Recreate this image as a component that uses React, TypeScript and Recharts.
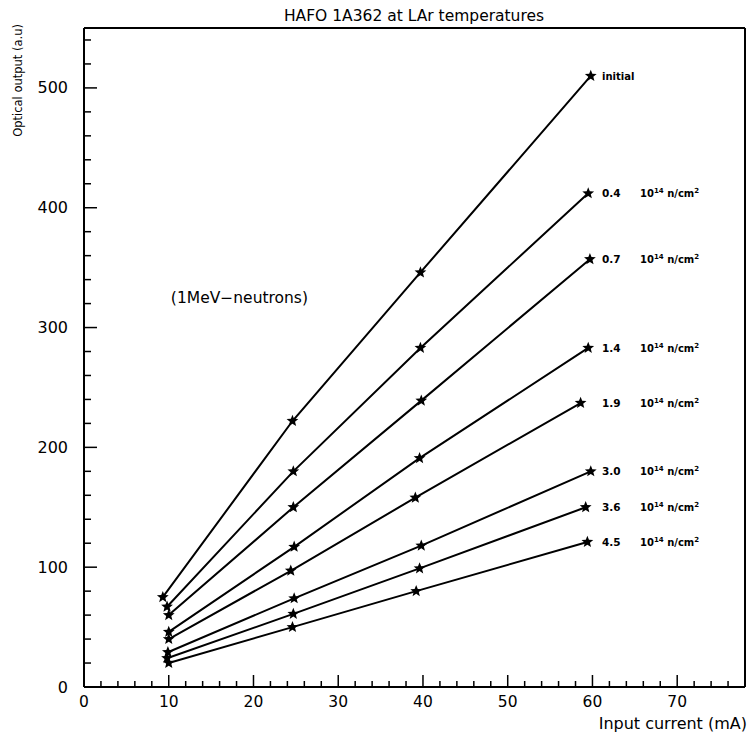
import { Label, Line, LineChart, XAxis, YAxis } from "recharts";

const FONT = "'DejaVu Sans', sans-serif";

// fluence labels, top curve first (units of 10^14 n/cm^2)
const fluenceLabels = ["initial", "0.4", "0.7", "1.4", "1.9", "3.0", "3.6", "4.5"];

// input current (mA) of each measured point, per curve
const currentInitial = [9.3, 24.6, 39.7, 59.8];
const current04 = [9.8, 24.7, 39.7, 59.5];
const current07 = [10, 24.7, 39.8, 59.7];
const current14 = [10, 24.8, 39.6, 59.5];
const current19 = [10, 24.4, 39.1, 58.6];
const current30 = [9.9, 24.8, 39.8, 59.8];
const current36 = [9.8, 24.7, 39.6, 59.2];
const current45 = [10, 24.6, 39.2, 59.4];

// optical output (a.u), per curve
const outputInitial = [75, 222, 346, 510];
const output04 = [67, 180, 283, 412];
const output07 = [60, 150, 239, 357];
const output14 = [46, 117, 191, 283];
const output19 = [40, 97, 158, 237];
const output30 = [29, 74, 118, 180];
const output36 = [24, 61, 99, 150];
const output45 = [20, 50, 80, 121];

const xTicks = [
  0, 2, 4, 6, 8, 10, 12, 14, 16, 18, 20, 22, 24, 26, 28, 30, 32, 34, 36, 38,
  40, 42, 44, 46, 48, 50, 52, 54, 56, 58, 60, 62, 64, 66, 68, 70, 72, 74, 76,
];
const xLabelled = [0, 10, 20, 30, 40, 50, 60, 70];
const yTicks = [
  0, 20, 40, 60, 80, 100, 120, 140, 160, 180, 200, 220, 240, 260, 280, 300,
  320, 340, 360, 380, 400, 420, 440, 460, 480, 500, 520, 540,
];
const yLabelled = [0, 100, 200, 300, 400, 500];

const currents = [
  currentInitial, current04, current07, current14,
  current19, current30, current36, current45,
];
const outputs = [
  outputInitial, output04, output07, output14,
  output19, output30, output36, output45,
];

const series = fluenceLabels.map((name, s) => ({
  name,
  data: currents[s].map((x, i) => ({ x, y: outputs[s][i] })),
}));

const TAG_X = 602;
const UNIT_X = 640;

function renderStar(props: any, s: number) {
  const { cx, cy, index } = props;
  const key = `star-${s}-${index}`;
  if (cx == null || cy == null) return <g key={key} />;
  const pts: string[] = [];
  for (let i = 0; i < 10; i++) {
    const r = i % 2 === 0 ? 6.2 : 2.7;
    const a = -Math.PI / 2 + (i * Math.PI) / 5;
    pts.push(`${cx + r * Math.cos(a)},${cy + r * Math.sin(a)}`);
  }
  return <polygon key={key} points={pts.join(" ")} fill="#000" />;
}

function renderTag(p: any, s: number) {
  const key = `tag-${s}-${p.index}`;
  if (p.index !== currents[s].length - 1) return <g key={key} />;
  const y = Number(p.y) + 4;
  if (s === 0) {
    return (
      <text key={key} x={TAG_X} y={y} fontSize={10} fontWeight="bold" fontFamily={FONT} fill="#000">
        {fluenceLabels[s]}
      </text>
    );
  }
  return (
    <g key={key} fontFamily={FONT} fontWeight="bold" fill="#000">
      <text x={TAG_X} y={y} fontSize={10.5}>
        {fluenceLabels[s]}
      </text>
      <text x={UNIT_X} y={y} fontSize={10}>
        10
        <tspan dy={-4} fontSize={7}>14</tspan>
        <tspan dy={4}> n/cm</tspan>
        <tspan dy={-4} fontSize={7}>2</tspan>
      </text>
    </g>
  );
}

const BottomTick = (props: any) => {
  const { x, y, payload } = props;
  const major = xLabelled.includes(payload.value);
  return (
    <g>
      <line x1={x} x2={x} y1={y} y2={y - (major ? 12 : 6)} stroke="#000" strokeWidth={1.5} />
      {major && (
        <text x={x} y={y + 20} textAnchor="middle" fontSize={15.5} fontFamily={FONT} fill="#000">
          {payload.value}
        </text>
      )}
    </g>
  );
};

const TopTick = (props: any) => {
  const { x, y, payload } = props;
  const major = xLabelled.includes(payload.value);
  return <line x1={x} x2={x} y1={y} y2={y + (major ? 5 : 3)} stroke="#000" strokeWidth={1} />;
};

const LeftTick = (props: any) => {
  const { x, y, payload } = props;
  const major = yLabelled.includes(payload.value);
  return (
    <g>
      <line x1={x} x2={x + (major ? 13 : 7)} y1={y} y2={y} stroke="#000" strokeWidth={1.5} />
      {major && (
        <text x={x - 16} y={y + 5.5} textAnchor="end" fontSize={16} fontFamily={FONT} fill="#000">
          {payload.value}
        </text>
      )}
    </g>
  );
};

const RightTick = (props: any) => {
  const { x, y, payload } = props;
  const major = yLabelled.includes(payload.value);
  return <line x1={x} x2={x - (major ? 5 : 3)} y1={y} y2={y} stroke="#000" strokeWidth={1} />;
};

const frame = { stroke: "#000", strokeWidth: 2 };

export default function App() {
  return (
    <div style={{ position: "absolute", left: 0, top: 0, background: "#fff" }}>
      <LineChart width={750} height={738} margin={{ top: 27, right: 4, bottom: 0, left: 0 }}>
        <XAxis
          dataKey="x"
          type="number"
          domain={[0, 78]}
          ticks={xTicks}
          interval={0}
          height={51}
          tickSize={0}
          tickMargin={0}
          tickLine={false}
          axisLine={frame}
          tick={BottomTick}
        >
          <Label
            content={() => (
              <text x={747} y={729} textAnchor="end" fontSize={16} fontFamily={FONT} fill="#000">
                Input current (mA)
              </text>
            )}
          />
        </XAxis>
        <XAxis
          xAxisId="top"
          orientation="top"
          dataKey="x"
          type="number"
          domain={[0, 78]}
          ticks={xTicks}
          interval={0}
          height={1}
          tickSize={0}
          tickMargin={0}
          tickLine={false}
          axisLine={frame}
          tick={TopTick}
        >
          <Label
            content={() => (
              <text x={414} y={21} textAnchor="middle" fontSize={15.5} fontFamily={FONT} fill="#000">
                HAFO 1A362 at LAr temperatures
              </text>
            )}
          />
        </XAxis>
        <YAxis
          type="number"
          domain={[0, 550]}
          ticks={yTicks}
          interval={0}
          width={84}
          tickSize={0}
          tickMargin={0}
          tickLine={false}
          axisLine={frame}
          tick={LeftTick}
        >
          <Label
            content={() => (
              <g fontFamily={FONT} fill="#000">
                <text x={22} y={24} transform="rotate(-90 22 24)" textAnchor="end" fontSize={11.5}>
                  Optical output (a.u)
                </text>
                <text x={308} y={303} textAnchor="end" fontSize={15.5}>
                  (1MeV−neutrons)
                </text>
              </g>
            )}
          />
        </YAxis>
        <YAxis
          yAxisId="right"
          orientation="right"
          type="number"
          domain={[0, 550]}
          ticks={yTicks}
          interval={0}
          width={1}
          tickSize={0}
          tickMargin={0}
          tickLine={false}
          axisLine={frame}
          tick={RightTick}
        />
        {series.map((sr, s) => (
          <Line
            key={sr.name}
            data={sr.data}
            dataKey="y"
            type="linear"
            stroke="#000"
            strokeWidth={2}
            isAnimationActive={false}
            dot={(p: any) => renderStar(p, s)}
            activeDot={false}
            label={(p: any) => renderTag(p, s)}
          />
        ))}
      </LineChart>
    </div>
  );
}
